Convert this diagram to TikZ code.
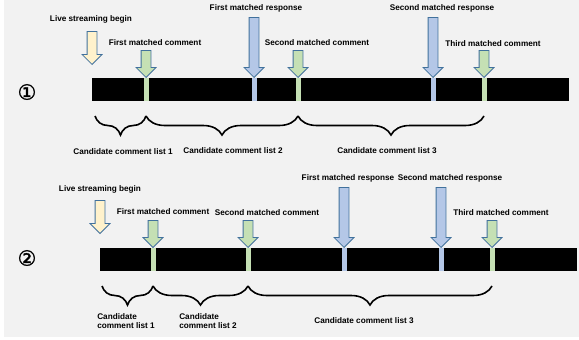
\documentclass[tikz,border=0pt]{standalone}
\usepackage{fontspec}
\setmainfont{Liberation Sans}
\newfontfamily\circfont[FakeBold=1.5]{DejaVu Sans}
\usetikzlibrary{shapes.arrows,decorations.pathreplacing,positioning}

\definecolor{bggray}{HTML}{F2F2F2}
\definecolor{arrline}{HTML}{41719C}
\definecolor{startfill}{HTML}{FFF2CC}
\definecolor{cmtfill}{HTML}{C5E0B4}
\definecolor{rspfill}{HTML}{B4C7E7}

\begin{document}
\begin{tikzpicture}[x=1pt,y=-1pt,font=\bfseries\fontsize{8.2}{9.5}\selectfont]
    \tikzstyle{arr}=[single arrow, draw=arrline, line width=0.8pt, rotate=-90, anchor=tip,
        inner xsep=0pt, inner ysep=4.5pt, single arrow head extend=5pt]
    \tikzstyle{startarr}=[arr, fill=startfill, minimum height=33pt]
    \tikzstyle{cmtarr}=[arr, fill=cmtfill, minimum height=27pt]
    \tikzstyle{rsparr}=[arr, fill=rspfill, minimum height=60pt]
    \tikzstyle{timeline}=[fill=black, inner sep=0pt, minimum width=477pt, minimum height=23pt, anchor=north west]
    \tikzstyle{stripe}=[inner sep=0pt, minimum width=5pt, minimum height=23pt, anchor=north]
    \tikzstyle{brc}=[decorate, decoration={brace, mirror, amplitude=19pt}, line width=1.6pt]
    \tikzstyle{num}=[font=\circfont\fontsize{21}{21}\selectfont]

    \useasboundingbox (0,0) rectangle (579,340);
    \fill[bggray] (4,0) rectangle (579,337);

    % case 1
    \node[num] (n1) at (27,92) {①};
    \node[timeline] (bar1) at (92,78) {};

    \node[startarr] (y1)  at (92,65) {};
    \node[cmtarr]   (g11) at (146,78) {};
    \node[rsparr]   (b11) at (254,78) {};
    \node[cmtarr]   (g12) at (298,78) {};
    \node[rsparr]   (b12) at (433,78) {};
    \node[cmtarr]   (g13) at (484,78) {};

    \node[stripe, fill=cmtfill] (s11) at (g11.tip) {};
    \node[stripe, fill=rspfill] (s12) at (b11.tip) {};
    \node[stripe, fill=cmtfill] (s13) at (g12.tip) {};
    \node[stripe, fill=rspfill] (s14) at (b12.tip) {};
    \node[stripe, fill=cmtfill] (s15) at (g13.tip) {};

    \node (ty1)  at (91,19)  {Live streaming begin};
    \node (tg11) at (155,43) {First matched comment};
    \node (tb11) at (256,8)  {First matched response};
    \node (tg12) at (317,43) {Second matched comment};
    \node (tb12) at (442,8)  {Second matched response};
    \node (tg13) at (493,44) {Third matched comment};

    \coordinate (c1) at (95,116);
    \draw[brc] (c1) -- (g11.tip |- c1);
    \draw[brc] (g11.tip |- c1) -- (g12.tip |- c1);
    \draw[brc] (g12.tip |- c1) -- (g13.tip |- c1);

    \node (l11) at (123,152) {Candidate comment list 1};
    \node (l12) at (233,151) {Candidate comment list 2};
    \node (l13) at (387,151) {Candidate comment list 3};

    % case 2
    \node[num] (n2) at (27,258) {②};
    \node[timeline] (bar2) at (100,248) {};

    \node[startarr] (y2)  at (100,234) {};
    \node[cmtarr]   (g21) at (153,248) {};
    \node[cmtarr]   (g22) at (248,248) {};
    \node[rsparr]   (b21) at (344,248) {};
    \node[rsparr]   (b22) at (441,248) {};
    \node[cmtarr]   (g23) at (492,248) {};

    \node[stripe, fill=cmtfill] (s21) at (g21.tip) {};
    \node[stripe, fill=cmtfill] (s22) at (g22.tip) {};
    \node[stripe, fill=rspfill] (s23) at (b21.tip) {};
    \node[stripe, fill=rspfill] (s24) at (b22.tip) {};
    \node[stripe, fill=cmtfill] (s25) at (g23.tip) {};

    \node (ty2)  at (100,189) {Live streaming begin};
    \node (tg21) at (163,212) {First matched comment};
    \node (tg22) at (267,213) {Second matched comment};
    \node (tb21) at (348,178) {First matched response};
    \node (tb22) at (450,178) {Second matched response};
    \node (tg23) at (501,213) {Third matched comment};

    \coordinate (c2) at (102,286);
    \draw[brc] (c2) -- (g21.tip |- c2);
    \draw[brc] (g21.tip |- c2) -- (g22.tip |- c2);
    \draw[brc] (g22.tip |- c2) -- (g23.tip |- c2);

    \node[align=left] (l21) at (126,321) {Candidate\\comment list 1};
    \node[align=left] (l22) at (208,321) {Candidate\\comment list 2};
    \node (l23) at (364,321) {Candidate comment list 3};
\end{tikzpicture}
\end{document}
